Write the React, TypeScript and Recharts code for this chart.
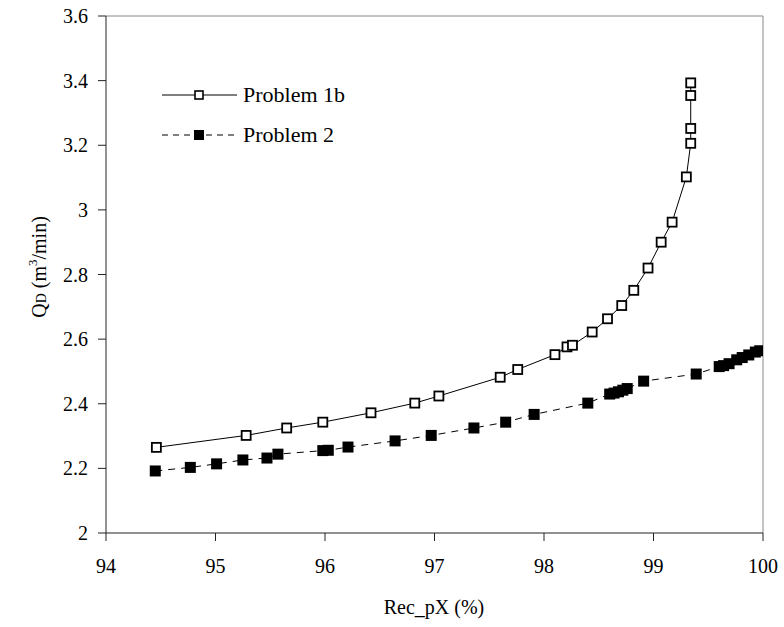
import React from 'react';
import {
  LineChart,
  Line,
  XAxis,
  YAxis,
  ReferenceLine,
} from 'recharts';

// Problem 1b (open squares, solid line)
const p1bX = [94.46, 95.28, 95.65, 95.98, 96.42, 96.82, 97.04, 97.6, 97.76, 98.1, 98.21, 98.26, 98.44, 98.58, 98.71, 98.82, 98.95, 99.07, 99.17, 99.3, 99.34, 99.34, 99.34, 99.34];
const p1bY = [2.265, 2.302, 2.325, 2.343, 2.372, 2.402, 2.424, 2.482, 2.506, 2.552, 2.576, 2.581, 2.622, 2.663, 2.704, 2.751, 2.82, 2.9, 2.962, 3.102, 3.206, 3.252, 3.354, 3.393];

// Problem 2 (filled squares, dashed line)
const p2X = [94.45, 94.77, 95.01, 95.25, 95.47, 95.57, 95.98, 96.03, 96.21, 96.64, 96.97, 97.36, 97.65, 97.91, 98.4, 98.6, 98.64, 98.68, 98.72, 98.76, 98.91, 99.39, 99.6, 99.64, 99.69, 99.76, 99.81, 99.87, 99.93, 99.97, 100.2];
const p2Y = [2.192, 2.203, 2.214, 2.226, 2.232, 2.244, 2.255, 2.256, 2.266, 2.285, 2.302, 2.325, 2.343, 2.367, 2.402, 2.43, 2.433, 2.437, 2.442, 2.447, 2.47, 2.492, 2.515, 2.518, 2.524, 2.536, 2.543, 2.551, 2.56, 2.564, 2.59];

const xTicks = [94, 95, 96, 97, 98, 99, 100];
const yTicks = [2, 2.2, 2.4, 2.6, 2.8, 3, 3.2, 3.4, 3.6];

const FONT = 'Liberation Serif';

const p1bData = p1bX.map((x, i) => ({ x, y: p1bY[i] }));
const p2Data = p2X.map((x, i) => ({ x, y: p2Y[i] }));

function OpenSquare(props: any) {
  const { cx, cy, index } = props;
  if (cx == null || cy == null) return null;
  return (
    <rect key={`o${index}`} x={cx - 4.5} y={cy - 4.5} width={9} height={9}
      fill="#fff" stroke="#000" strokeWidth={1.8} />
  );
}

function FilledSquare(props: any) {
  const { cx, cy, index } = props;
  if (cx == null || cy == null) return null;
  return (
    <rect key={`f${index}`} x={cx - 5.5} y={cy - 5.5} width={11} height={11} fill="#000" />
  );
}

function LegendBox() {
  return (
    <svg width={230} height={80} style={{ position: 'absolute', left: 150, top: 75 }}>
      <line x1={12} y1={20} x2={87} y2={20} stroke="#000" strokeWidth={1} />
      <rect x={45} y={16} width={8} height={8} fill="#fff" stroke="#000" strokeWidth={1.6} />
      <text x={93} y={27} fontFamily={FONT} fontSize={22} fill="#000">Problem 1b</text>
      <line x1={12} y1={60} x2={87} y2={60} stroke="#000" strokeWidth={1} strokeDasharray="6 5" />
      <rect x={44} y={55} width={10} height={10} fill="#000" />
      <text x={93} y={67} fontFamily={FONT} fontSize={22} fill="#000">Problem 2</text>
    </svg>
  );
}

export default function App() {
  const tickStyle = { fontSize: 20, fill: '#000', fontFamily: FONT };
  return (
    <div style={{ position: 'absolute', left: 0, top: 0, width: 784, height: 627, background: '#fff' }}>
      <LineChart width={784} height={627} margin={{ top: 16, right: 21, left: 0, bottom: 0 }}>
        <XAxis
          type="number"
          dataKey="x"
          domain={[94, 100]}
          ticks={xTicks}
          allowDataOverflow
          tick={tickStyle}
          tickSize={8}
          tickMargin={18}
          height={94}
          stroke="#222"
          label={{
            content: () => (
              <text x={434} y={614} textAnchor="middle" fontFamily={FONT} fontSize={20} fill="#000">
                Rec_pX (%)
              </text>
            ),
          }}
        />
        <YAxis
          type="number"
          dataKey="y"
          domain={[2, 3.6]}
          ticks={yTicks}
          allowDataOverflow
          tick={tickStyle}
          tickSize={8}
          tickMargin={10}
          width={106}
          stroke="#222"
          label={{
            content: () => (
              <text transform="translate(46,267) rotate(-90)" textAnchor="middle" fontFamily={FONT} fontSize={20} fill="#000">
                <tspan>Q</tspan>
                <tspan fontSize={14}>D</tspan>
                <tspan> (m</tspan>
                <tspan fontSize={13} dy={-9}>3</tspan>
                <tspan dy={9}>/min)</tspan>
              </text>
            ),
          }}
        />
        <ReferenceLine y={3.6} stroke="#888" strokeWidth={1} />
        <ReferenceLine x={100} stroke="#888" strokeWidth={1} />
        <Line
          data={p1bData}
          dataKey="y"
          type="linear"
          stroke="#000"
          strokeWidth={1}
          dot={<OpenSquare />}
          activeDot={false}
          isAnimationActive={false}
        />
        <Line
          data={p2Data}
          dataKey="y"
          type="linear"
          stroke="#000"
          strokeWidth={1}
          strokeDasharray="7 6"
          dot={<FilledSquare />}
          activeDot={false}
          isAnimationActive={false}
        />
      </LineChart>
      <LegendBox />
    </div>
  );
}
